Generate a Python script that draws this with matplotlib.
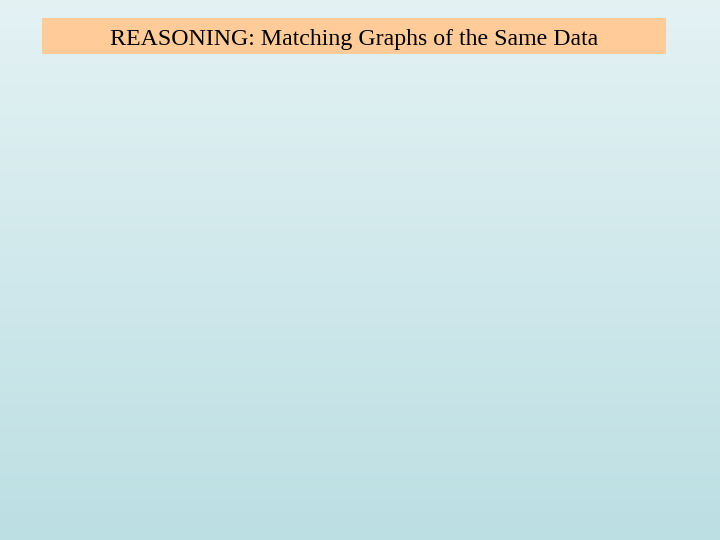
import numpy as np
import matplotlib
matplotlib.use("Agg")
import matplotlib.pyplot as plt
from matplotlib.patches import Rectangle

title_text = "REASONING: Matching Graphs of the Same Data"
top_color = np.array([0xE4, 0xF2, 0xF4]) / 255.0
bottom_color = np.array([0xBC, 0xDF, 0xE3]) / 255.0

fig = plt.figure(figsize=(7.2, 5.4), dpi=100)
ax = fig.add_axes([0, 0, 1, 1])
ax.set_xlim(0, 720)
ax.set_ylim(540, 0)
ax.axis("off")

t = np.linspace(0, 1, 540)[:, None, None]
grad = top_color[None, None, :] * (1 - t) + bottom_color[None, None, :] * t
grad = np.repeat(grad, 2, axis=1)
ax.imshow(grad, extent=[0, 720, 540, 0], aspect="auto", zorder=0)

ax.add_patch(Rectangle((42, 18), 624, 36, facecolor="#FFCC99", edgecolor="none", zorder=1))
ax.text(354, 39.5, title_text, ha="center", va="center", fontsize=17.2,
        family="Liberation Serif", color="black", zorder=2)

fig.savefig("out.png", dpi=100)
